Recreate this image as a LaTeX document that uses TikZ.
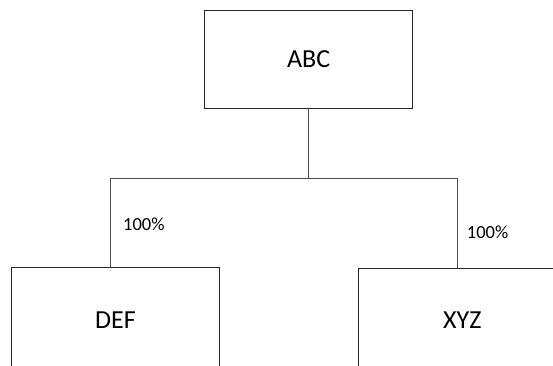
\documentclass[tikz,border=0pt]{standalone}
\usepackage{fontspec}
\setmainfont{Carlito}
\begin{document}
\begin{tikzpicture}[x=1pt,y=-1pt,
  orgbox/.style={draw=black!85, line width=0.8pt, minimum width=208pt, minimum height=98pt, inner sep=0pt, font=\fontsize{26}{30}\selectfont},
  subbox/.style={orgbox, minimum height=104pt},
  link/.style={draw=black!70, line width=0.8pt},
  pct/.style={font=\fontsize{18.5}{22}\selectfont, anchor=west, inner sep=0pt}]
\useasboundingbox (0,0) rectangle (553,365);
% company boxes
\node[orgbox] (abc) at (308.7,59.2) {ABC};
\node[subbox] (def) at (115.5,319.7) {DEF};
\node[subbox] (xyz) at (462.3,320.3) {XYZ};
% ownership tree
\coordinate (busL) at (110.7,178.8);
\coordinate (busR) at (457,178.8);
\draw[link] (abc.south) -- (abc.south |- busL);
\draw[link] (def.north -| busL) -- (busL) -- (busR) -- (xyz.north -| busR);
% shareholding labels
\node[pct] (pl) at (123,224) {100\%};
\node[pct] (pr) at (466.7,232.7) {100\%};
\end{tikzpicture}
\end{document}
